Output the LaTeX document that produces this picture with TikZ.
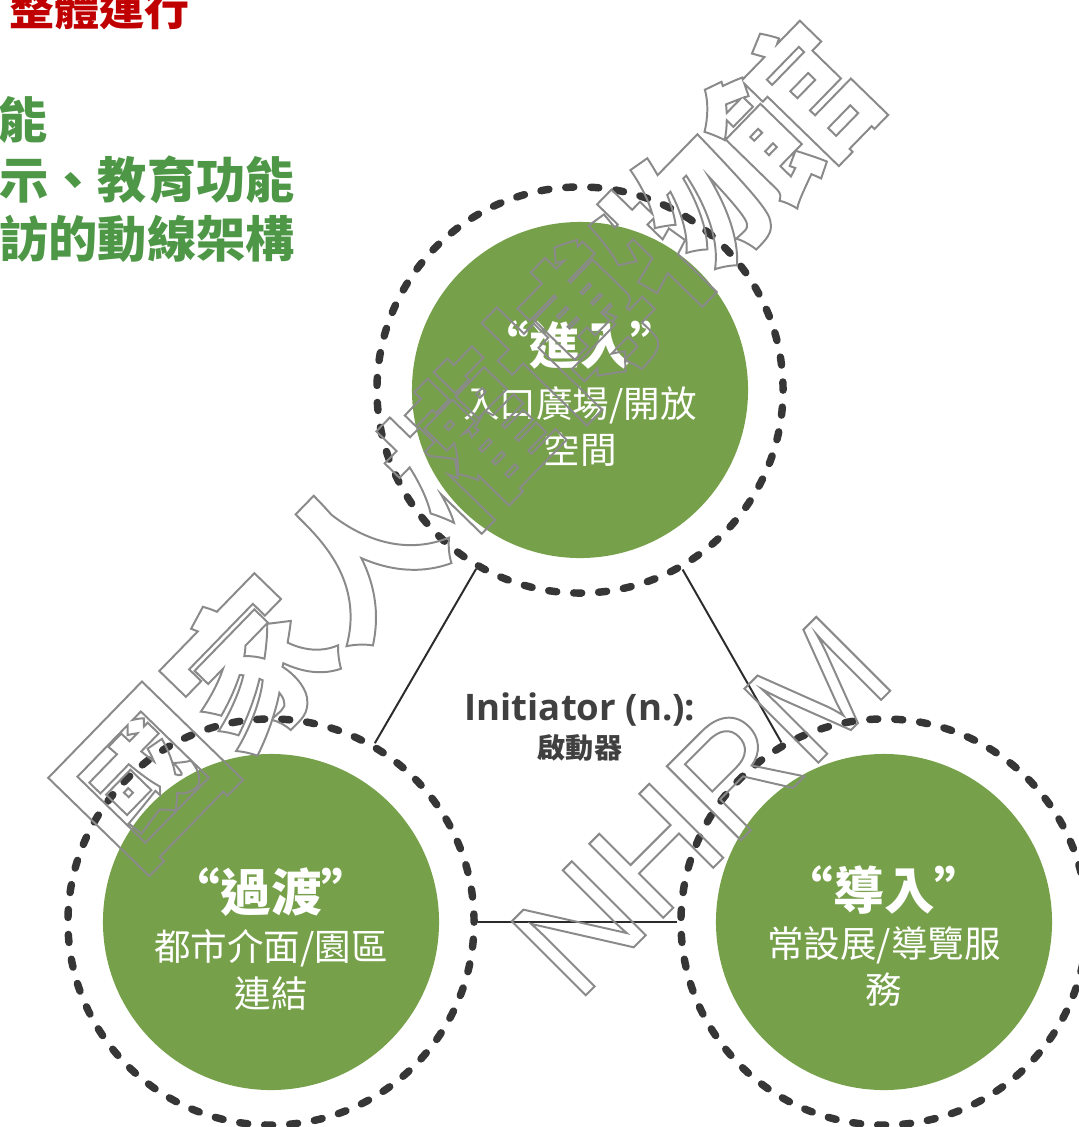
\documentclass[tikz,border=0pt]{standalone}
\usepackage{fontspec}
\usepackage{xcolor}
\usepackage{tikz}
\usetikzlibrary{calc}
\setmainfont{Noto Sans CJK TC}
\newfontfamily\cjkfont{Noto Sans CJK TC}
\newfontfamily\latinfont{Open Sans}
\newfontfamily\stampfont{Liberation Sans}
\definecolor{hubgreen}{HTML}{76A04A}
\definecolor{ringgray}{HTML}{363636}
\definecolor{linkgray}{HTML}{2B2B2B}
\definecolor{headred}{HTML}{C00000}
\definecolor{headgreen}{HTML}{4E9747}
\definecolor{inkgray}{HTML}{404040}
\definecolor{stampgray}{HTML}{8A8A8A}
% outlined watermark letters
\newcommand{\outlinetext}[1]{\special{pdf:literal direct 1 Tr 1.4 w}#1\special{pdf:literal direct 0 Tr}}

\begin{document}
\begin{tikzpicture}[x=0.025cm, y=-0.025cm,
    ring/.style={circle, draw=ringgray, line width=5.3pt, dash pattern=on 5.7pt off 12.09pt, line cap=round, minimum size=10.15cm, inner sep=0pt},
    hub/.style={circle, fill=hubgreen, minimum size=8.4cm, inner sep=0pt},
    hubtitle/.style={text=white, inner sep=0pt, font=\cjkfont\fontsize{36}{40}\selectfont\bfseries},
    hubtext/.style={text=white, inner sep=0pt, font=\cjkfont\fontsize{26}{30}\selectfont},
    headline/.style={text=headgreen, inner sep=0pt, font=\cjkfont\fontsize{35}{40}\selectfont\bfseries},
    link/.style={line width=1.4pt, color=linkgray},
    stamp/.style={text=stampgray, inner sep=0pt}
]
\useasboundingbox (0,0) rectangle (1079,1127);

% Heading lines (cut by the page edge)
\node[text=headred, inner sep=0pt, font=\cjkfont\fontsize{32}{36}\selectfont\bfseries, anchor=east] (headtop) at (190,8) {整體運行};
\node[headline, anchor=west] (headone) at (-2,120) {能};
\node[headline, anchor=east] (headtwo) at (295,180) {示、教育功能};
\node[headline, anchor=east] (headthree) at (295,239) {訪的動線架構};

% Three stages
\node[ring] (entryring) at (580,390) {};
\node[hub] (entry) at (580,390) {};
\node[ring] (bridgering) at (271,922) {};
\node[hub] (bridge) at (271,922) {};
\node[ring] (guidering) at (884,922) {};
\node[hub] (guide) at (884,922) {};

\node[hubtitle] (entrytitle) at ($(entry)+(0,-45)$) {“進入”};
\node[hubtext] (entryline1) at ($(entry)+(0,15)$) {入口廣場/開放};
\node[hubtext] (entryline2) at ($(entry)+(0,60)$) {空間};

\node[hubtitle] (bridgetitle) at ($(bridge)+(0,-30)$) {“過渡”};
\node[hubtext] (bridgeline1) at ($(bridge)+(0,26)$) {都市介面/園區};
\node[hubtext] (bridgeline2) at ($(bridge)+(0,72)$) {連結};

\node[hubtitle] (guidetitle) at ($(guide)+(0,-32)$) {“導入”};
\node[hubtext] (guideline1) at ($(guide)+(0,23)$) {常設展/導覽服};
\node[hubtext] (guideline2) at ($(guide)+(0,68)$) {務};

\draw[link] (entryring) -- (bridgering);
\draw[link] (entryring) -- (guidering);
\draw[link] (bridgering) -- (guidering);

% Centre label
\node[text=inkgray, inner sep=0pt, font=\latinfont\fontsize{26}{30}\selectfont\bfseries] (initiator) at (580,709) {Initiator (n.):};
\node[text=inkgray, inner sep=0pt, font=\cjkfont\fontsize{20}{24}\selectfont\bfseries] (initiatorzh) at (580,748) {啟動器};

% Watermark
\node[stamp, rotate=45.8, font=\cjkfont\fontsize{110}{120}\selectfont\bfseries] (stampzh) at (466,443) {\outlinetext{國家人權博物館}};
\node[stamp, rotate=45, font=\stampfont\fontsize{108}{112}\selectfont] (stampen) at (701,806) {\outlinetext{NHRM}};
\end{tikzpicture}
\end{document}
